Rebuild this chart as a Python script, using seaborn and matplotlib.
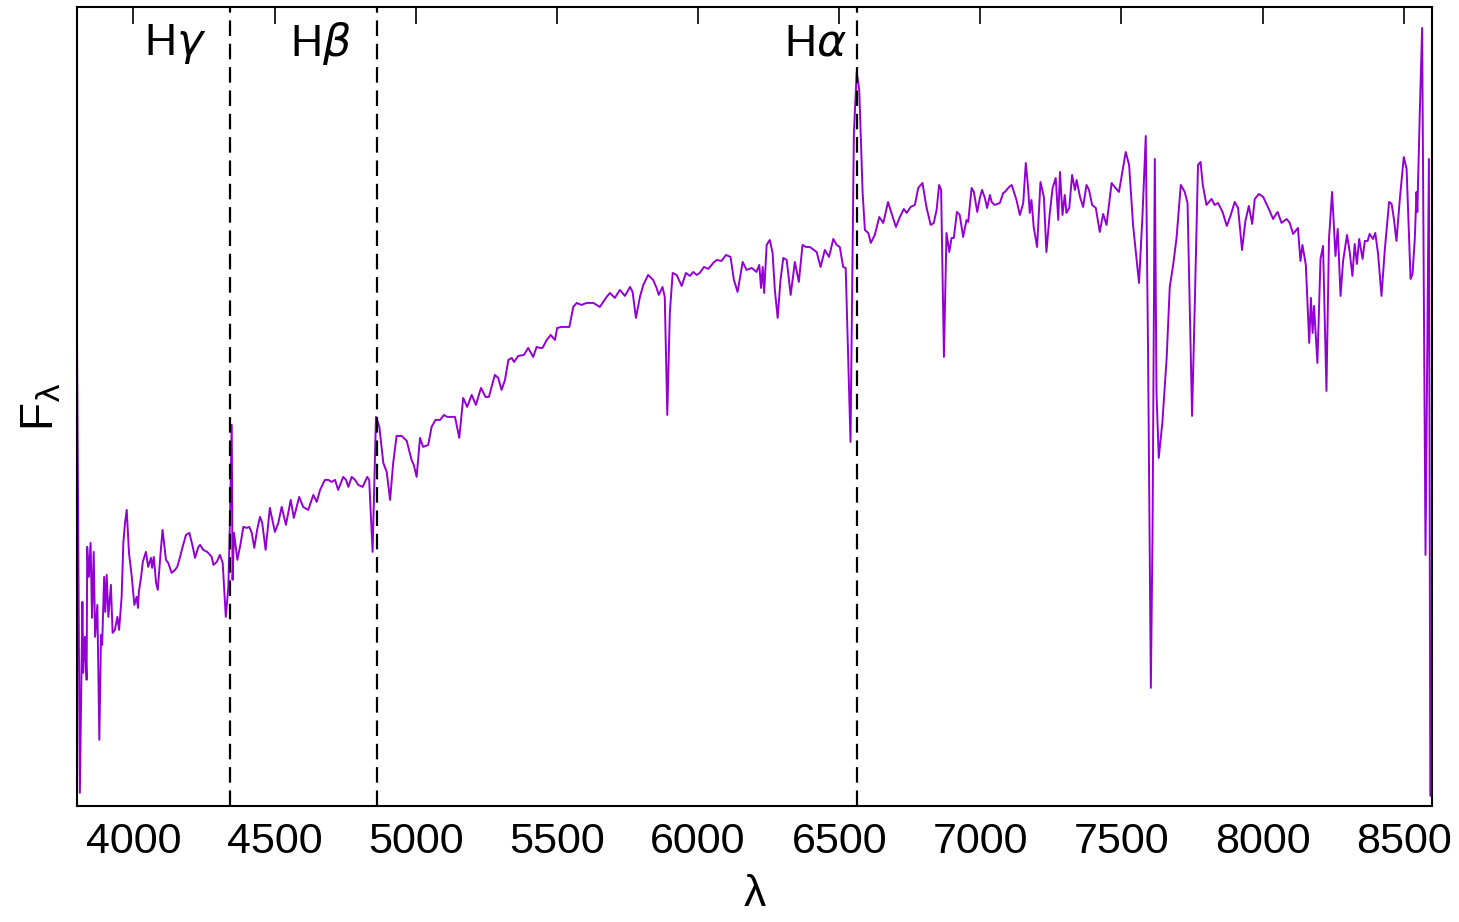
import matplotlib
matplotlib.use("Agg")
import matplotlib.pyplot as plt
import seaborn as sns
import pandas as pd

# spectrum (wavelength in Angstrom, flux in arbitrary units)
wavelength = [
    3800, 3810, 3819, 3822, 3828, 3834, 3836, 3842, 3848, 3853, 3859, 3864, 3872, 3879, 3885,
    3889, 3896, 3900, 3905, 3911, 3920, 3926, 3934, 3943, 3949, 3958, 3964, 3970, 3976, 3984,
    3994, 4003, 4011, 4016, 4019, 4027, 4033, 4044, 4052, 4062, 4066, 4072, 4080, 4086, 4096,
    4103, 4115, 4123, 4135, 4147, 4155, 4165, 4174, 4186, 4198, 4210, 4218, 4230, 4236, 4247,
    4261, 4271, 4277, 4283, 4295, 4306, 4316, 4327, 4336, 4341, 4348, 4351, 4356, 4368, 4380,
    4389, 4401, 4410, 4419, 4428, 4438, 4448, 4456, 4468, 4483, 4501, 4513, 4525, 4540, 4557,
    4568, 4587, 4601, 4619, 4637, 4649, 4661, 4678, 4690, 4702, 4714, 4725, 4743, 4753, 4761,
    4773, 4785, 4796, 4812, 4828, 4835, 4847, 4859, 4871, 4885, 4897, 4909, 4920, 4932, 4950,
    4968, 4985, 4993, 5003, 5015, 5026, 5044, 5056, 5070, 5086, 5100, 5111, 5139, 5154, 5168,
    5182, 5198, 5213, 5231, 5247, 5259, 5280, 5292, 5304, 5316, 5328, 5340, 5348, 5363, 5383,
    5398, 5416, 5428, 5440, 5449, 5464, 5478, 5493, 5501, 5517, 5528, 5544, 5558, 5570, 5587,
    5605, 5629, 5652, 5676, 5688, 5705, 5723, 5741, 5759, 5768, 5780, 5794, 5806, 5823, 5841,
    5853, 5861, 5874, 5882, 5891, 5900, 5910, 5924, 5942, 5957, 5971, 5983, 5995, 6006, 6021,
    6036, 6054, 6066, 6083, 6099, 6115, 6127, 6140, 6158, 6172, 6190, 6207, 6217, 6223, 6229,
    6234, 6243, 6254, 6264, 6272, 6282, 6292, 6302, 6314, 6328, 6343, 6357, 6370, 6382, 6396,
    6420, 6434, 6449, 6464, 6479, 6491, 6502, 6514, 6523, 6540, 6552, 6562, 6571, 6583, 6591,
    6603, 6612, 6626, 6642, 6656, 6673, 6685, 6701, 6715, 6729, 6739, 6753, 6768, 6780, 6795,
    6809, 6824, 6835, 6845, 6854, 6861, 6871, 6880, 6890, 6898, 6906, 6917, 6927, 6939, 6951,
    6957, 6969, 6977, 6989, 6999, 7006, 7016, 7024, 7034, 7040, 7051, 7069, 7081, 7087, 7102,
    7111, 7128, 7140, 7152, 7161, 7169, 7175, 7181, 7189, 7201, 7213, 7225, 7234, 7246, 7256,
    7267, 7276, 7282, 7291, 7299, 7305, 7315, 7325, 7335, 7341, 7353, 7364, 7376, 7385, 7396,
    7409, 7423, 7435, 7447, 7465, 7476, 7491, 7500, 7515, 7527, 7541, 7562, 7574, 7586, 7594,
    7604, 7610, 7618, 7624, 7632, 7645, 7660, 7671, 7683, 7695, 7710, 7724, 7734, 7742, 7750,
    7759, 7771, 7780, 7788, 7801, 7819, 7830, 7842, 7858, 7873, 7886, 7901, 7913, 7927, 7939,
    7951, 7963, 7972, 7987, 8002, 8025, 8037, 8053, 8067, 8085, 8096, 8108, 8125, 8134, 8141,
    8153, 8165, 8171, 8177, 8182, 8194, 8205, 8214, 8226, 8235, 8246, 8258, 8266, 8276, 8285,
    8299, 8308, 8318, 8326, 8334, 8342, 8354, 8362, 8372, 8379, 8391, 8399, 8409, 8421, 8433,
    8448, 8457, 8465, 8474, 8486, 8500, 8510, 8515, 8524, 8531, 8539, 8545, 8548, 8557, 8565,
    8577, 8589, 8594,
]
flux = [
    4.61, 0.13, 2.04, 1.33, 1.69, 1.26, 2.59, 2.29, 2.63, 1.88, 2.54, 1.69, 2.01, 0.66, 1.71,
    1.61, 2.29, 1.94, 2.31, 1.89, 2.21, 1.73, 1.76, 1.89, 1.76, 2.09, 2.63, 2.83, 2.96, 2.53,
    2.29, 2.01, 2.09, 1.98, 2.14, 2.29, 2.44, 2.54, 2.39, 2.48, 2.38, 2.49, 2.23, 2.16, 2.53,
    2.76, 2.46, 2.43, 2.33, 2.36, 2.39, 2.49, 2.59, 2.71, 2.73, 2.59, 2.48, 2.59, 2.61, 2.56,
    2.54, 2.51, 2.49, 2.41, 2.44, 2.51, 2.43, 1.89, 2.19, 2.76, 3.81, 2.26, 2.73, 2.46, 2.63,
    2.79, 2.78, 2.79, 2.73, 2.58, 2.76, 2.89, 2.83, 2.56, 2.98, 2.74, 2.83, 2.99, 2.81, 3.06,
    2.88, 3.09, 2.99, 2.96, 3.11, 3.04, 3.16, 3.26, 3.26, 3.24, 3.26, 3.16, 3.29, 3.26, 3.19,
    3.29, 3.26, 3.21, 3.19, 3.29, 3.26, 2.54, 3.89, 3.79, 3.43, 3.34, 3.06, 3.43, 3.70, 3.70,
    3.65, 3.46, 3.41, 3.29, 3.68, 3.59, 3.61, 3.79, 3.86, 3.86, 3.91, 3.89, 3.89, 3.68, 4.08,
    3.99, 4.11, 4.01, 4.18, 4.09, 4.09, 4.31, 4.28, 4.16, 4.26, 4.46, 4.48, 4.44, 4.50, 4.51,
    4.58, 4.49, 4.59, 4.58, 4.58, 4.66, 4.71, 4.66, 4.78, 4.79, 4.79, 4.79, 4.99, 5.03, 5.01,
    5.03, 5.03, 4.99, 5.09, 5.13, 5.08, 5.16, 5.10, 5.19, 5.14, 4.88, 5.09, 5.21, 5.31, 5.26,
    5.18, 5.11, 5.19, 5.09, 3.91, 4.93, 5.33, 5.31, 5.20, 5.33, 5.30, 5.34, 5.31, 5.33, 5.39,
    5.37, 5.43, 5.46, 5.45, 5.51, 5.49, 5.26, 5.14, 5.44, 5.36, 5.38, 5.34, 5.41, 5.18, 5.39,
    5.13, 5.61, 5.66, 5.53, 5.16, 4.88, 5.26, 5.48, 5.46, 5.11, 5.44, 5.24, 5.61, 5.59, 5.59,
    5.54, 5.39, 5.56, 5.49, 5.67, 5.61, 5.59, 5.39, 5.38, 3.64, 6.73, 7.34, 7.16, 6.13, 5.76,
    5.73, 5.63, 5.71, 5.89, 5.83, 6.04, 5.93, 5.79, 5.89, 5.97, 5.93, 5.99, 6.01, 6.18, 6.23,
    5.99, 5.81, 5.83, 5.96, 6.21, 6.16, 4.49, 5.73, 5.54, 5.68, 5.68, 5.94, 5.91, 5.69, 5.86,
    5.84, 6.18, 6.14, 5.94, 6.09, 6.16, 6.08, 5.98, 6.11, 6.04, 6.01, 6.03, 6.13, 6.14, 6.19,
    6.21, 6.06, 5.91, 6.03, 6.43, 6.19, 5.93, 6.06, 5.79, 5.59, 6.24, 6.09, 5.54, 5.93, 6.18,
    6.28, 5.86, 6.34, 5.91, 6.11, 5.93, 5.98, 6.31, 6.16, 6.26, 6.09, 5.99, 6.21, 6.16, 6.01,
    5.98, 5.74, 5.92, 5.81, 6.23, 6.19, 6.14, 6.29, 6.54, 6.41, 5.81, 5.23, 5.88, 6.70, 4.57,
    1.18, 2.75, 6.47, 4.13, 3.48, 3.84, 4.48, 5.19, 5.41, 5.68, 6.21, 6.14, 6.03, 4.94, 3.90,
    4.94, 6.41, 6.44, 6.21, 6.01, 6.07, 6.01, 6.03, 5.94, 5.80, 5.90, 6.04, 5.98, 5.56, 5.85,
    6.00, 5.82, 6.07, 6.12, 6.09, 5.95, 5.87, 5.94, 5.83, 5.87, 5.83, 5.72, 5.78, 5.45, 5.61,
    5.41, 4.63, 5.08, 4.73, 5.00, 4.43, 5.47, 5.60, 4.15, 5.67, 6.14, 5.50, 5.77, 5.10, 5.45,
    5.71, 5.55, 5.30, 5.62, 5.42, 5.67, 5.47, 5.65, 5.65, 5.72, 5.67, 5.73, 5.52, 5.10, 5.57,
    6.04, 6.02, 5.87, 5.65, 6.07, 6.49, 6.37, 5.97, 5.27, 5.32, 5.67, 6.14, 5.94, 6.96, 7.78,
    2.51, 6.47, 0.10,
]

# Balmer lines marked with dashed lines
line_names = [r'H$\gamma$', r'H$\beta$', r'H$\alpha$']
line_wavelengths = [4341, 4861, 6563]
label_wavelengths = [4147, 4664, 6414]

xticks = [4000, 4500, 5000, 5500, 6000, 6500, 7000, 7500, 8000, 8500]

df = pd.DataFrame({'wavelength': wavelength, 'flux': flux})

sns.set_style('white', rc={'text.color': 'black', 'axes.labelcolor': 'black',
                           'xtick.color': 'black', 'ytick.color': 'black',
                           'axes.edgecolor': 'black'})
plt.rcParams['font.family'] = ['Liberation Sans Narrow', 'Liberation Sans', 'DejaVu Sans']
plt.rcParams['mathtext.fontset'] = 'dejavusans'

fig = plt.figure(figsize=(14.59, 9.22), dpi=100)
ax = fig.add_axes([0.0528, 0.126, 0.9287, 0.8664])

sns.lineplot(data=df, x='wavelength', y='flux', color='darkviolet', lw=1.4,
             estimator=None, sort=False, ax=ax)

for lam in line_wavelengths:
    ax.axvline(lam, color='black', lw=1.6, ls=(0, (7, 3.5)))
for name, lam in zip(line_names, label_wavelengths):
    ax.text(lam, 7.62, name, ha='center', va='center', fontsize=32)

ax.set_xlim(3800, 8600)
ax.set_ylim(0, 7.99)
ax.set_xticks(xticks)
ax.set_yticks([])
ax.tick_params(axis='x', direction='in', length=12, width=1.2, top=True,
               labelsize=31, pad=12)
for sp in ax.spines.values():
    sp.set_linewidth(1.5)

ax.set_xlabel('λ', fontsize=32, labelpad=8)
ax.set_ylabel(r'F$_{\mathrm{\lambda}}$', fontsize=33, labelpad=10)

fig.savefig('out.png', dpi=100)
